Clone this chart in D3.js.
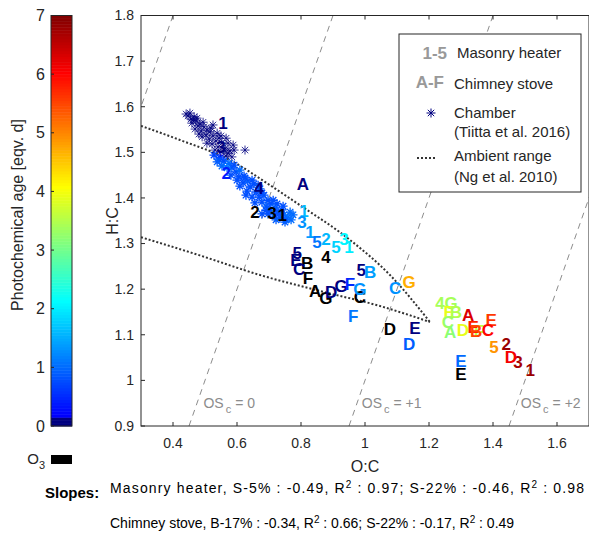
<!DOCTYPE html>
<html><head><meta charset="utf-8">
<script src="https://cdnjs.cloudflare.com/ajax/libs/d3/7.8.5/d3.min.js"></script>
<style>
html,body{margin:0;padding:0;background:#fff}
svg{display:block;font-family:Arial,"Liberation Sans",Helvetica,sans-serif}
</style></head><body>
<div id="chart"></div>
<script>
// Van Krevelen plot: H:C vs O:C, labels coloured by photochemical age

// Masonry heater points [label, O:C, H:C, age] (age null = O3 experiment, black)
const masonry=[
  ["1",0.556,1.564,0],["3",0.550,1.512,0],["2",0.566,1.455,0.4],["4",0.669,1.422,0.05],
  ["2",0.656,1.369,null],["3",0.709,1.367,null],["1",0.741,1.363,null],
  ["1",0.809,1.371,1.6],["3",0.803,1.347,1.3],["1",0.828,1.325,1.4],["5",0.850,1.303,1.1],
  ["2",0.878,1.310,1.6],["5",0.909,1.292,1.8],["3",0.934,1.310,2.1],["1",0.950,1.292,2.0],
  ["5",0.788,1.279,0],["4",0.878,1.270,null],["5",0.988,1.242,0.1],["4",1.234,1.170,3.4],
  ["5",1.403,1.073,4.9],["2",1.441,1.080,6.8],["3",1.478,1.040,6.7],["1",1.516,1.023,6.8]
];
// Chimney stove points
const chimney=[
  ["A",0.806,1.430,0],["E",0.784,1.264,0],["B",0.819,1.257,null],["C",0.794,1.244,0.1],
  ["F",0.822,1.224,null],["A",0.844,1.196,null],["G",0.878,1.181,null],["D",0.894,1.194,0],
  ["G",0.925,1.207,0],["F",0.953,1.211,0.5],["C",0.984,1.183,null],["G",0.984,1.200,1.3],
  ["B",1.016,1.237,1.4],["C",1.094,1.202,1.3],["G",1.138,1.216,4.7],["F",0.963,1.141,1.1],
  ["D",1.078,1.113,null],["E",1.156,1.115,0],["D",1.138,1.080,0.9],["G",1.269,1.170,3.4],
  ["E",1.263,1.150,3.9],["B",1.284,1.150,3.5],["C",1.259,1.128,3.3],["A",1.266,1.106,3.2],
  ["D",1.306,1.110,3.9],["F",1.356,1.108,3.6],["A",1.322,1.143,6.3],["E",1.338,1.117,5.8],
  ["B",1.347,1.108,5.5],["E",1.394,1.132,5.6],["C",1.384,1.110,6.0],["D",1.456,1.051,6.1],
  ["E",1.300,1.042,1.0],["E",1.300,1.014,null]
];
// Chamber data (Tiitta et al. 2016) [O:C, H:C, age]
const chamber=[
  [0.447,1.580,0],[0.456,1.573,0],[0.466,1.578,0],[0.459,1.564,0],[0.472,1.569,0],
  [0.478,1.558,0],[0.469,1.551,0],[0.488,1.547,0],[0.497,1.556,0],[0.481,1.540,0],
  [0.503,1.538,0],[0.516,1.545,0],[0.513,1.529,0],[0.525,1.536,0],[0.534,1.525,0],
  [0.522,1.518,0],[0.544,1.531,0],[0.553,1.520,0],[0.541,1.512,0],[0.563,1.509,0],
  [0.572,1.520,0],[0.531,1.505,0],[0.550,1.501,0],[0.578,1.503,0],[0.566,1.492,0],
  [0.584,1.490,0],[0.525,1.560,0],[0.625,1.505,0],
  [0.441,1.584,0],[0.453,1.586,0],[0.463,1.571,0],[0.475,1.575,0],[0.484,1.562,0],
  [0.494,1.566,0],[0.506,1.549,0],[0.519,1.553,0],[0.491,1.534,0],[0.506,1.520,0],
  [0.538,1.542,0],[0.550,1.536,0],[0.566,1.531,0],[0.559,1.505,0],[0.572,1.498,0],
  [0.591,1.505,0],[0.547,1.488,0.3],[0.588,1.516,0],
  [0.528,1.494,0.7],[0.544,1.485,0.8],[0.559,1.481,0.8],[0.575,1.476,1.0],[0.553,1.470,1.0],
  [0.584,1.466,0.9],[0.597,1.457,0.8],[0.609,1.461,1.0],[0.606,1.446,0.8],[0.622,1.448,0.8],
  [0.619,1.433,0.8],[0.634,1.437,0.9],[0.641,1.424,0.8],[0.653,1.431,0.8],[0.631,1.415,0.8],
  [0.659,1.413,0.8],[0.672,1.420,0.9],[0.669,1.402,0.8],[0.684,1.406,0.8],[0.678,1.391,0.8],
  [0.697,1.395,0.8],[0.691,1.382,0.9],[0.706,1.387,0.8],[0.703,1.373,0.8],[0.719,1.378,1.0],
  [0.728,1.369,0.8],[0.716,1.363,0.9],[0.741,1.374,0.8],[0.747,1.363,1.0],[0.734,1.356,0.8],
  [0.759,1.358,1.1],[0.766,1.369,1.0],[0.753,1.352,0.9],
  [0.538,1.479,0.9],[0.569,1.466,1.1],[0.591,1.472,0.8],[0.581,1.450,0.8],[0.600,1.439,0.8],
  [0.625,1.444,0.8],[0.609,1.426,0.8],[0.647,1.439,0.8],[0.628,1.406,0.8],[0.647,1.402,0.8],
  [0.666,1.428,0.8],[0.656,1.389,0.8],[0.678,1.411,0.8],[0.691,1.373,0.8],[0.713,1.395,0.8],
  [0.697,1.365,0.8],[0.725,1.387,0.8],[0.744,1.382,0.8],[0.731,1.365,0.8],[0.722,1.352,0.9],
  [0.750,1.347,0.9],[0.769,1.352,1.0],[0.775,1.363,1.0],[0.678,1.365,0.8]
];
// Ambient range (Ng et al. 2010)
const ngUpper=[[0.3,1.558],[0.422,1.527],[0.578,1.483],[0.703,1.428],[0.797,1.384],[0.953,1.308],[1.078,1.231],[1.203,1.128]];
const ngLower=[[0.3,1.314],[0.484,1.274],[0.672,1.231],[0.859,1.196],[1.047,1.163],[1.203,1.128]];
// Oxidation state lines OSc = 2*O:C - H:C
const osLines=[-1,0,1,2];
const osLabels=[["0",0.495,0.95],["+1",0.99,0.95],["+2",1.487,0.95]];
const xTicks=[0.4,0.6,0.8,1,1.2,1.4,1.6];
const yTicks=[0.9,1,1.1,1.2,1.3,1.4,1.5,1.6,1.7,1.8];
const cbTicks=[0,1,2,3,4,5,6,7];
const slopeLines=[
  "Masonry heater, S-5% : -0.49, R|2| :  0.97; S-22% : -0.46, R|2| :  0.98",
  "Chimney stove, B-17% : -0.34, R|2| : 0.66; S-22% : -0.17, R|2| : 0.49"
];

const W=589,H=537;
const x=d3.scaleLinear([0.3,1.7],[141,589]);
const y=d3.scaleLinear([0.9,1.8],[426,15.5]);
const cy=d3.scaleLinear([0,7],[426,15.5]);

function jet(t){
  const c=v=>Math.round(255*Math.max(0,Math.min(1,v)));
  return d3.rgb(c(1.5-Math.abs(4*t-3)),c(1.5-Math.abs(4*t-2)),c(1.5-Math.abs(4*t-1)));
}
function ageColor(a){
  if(a==null)return "#000";
  if(a<0.15)return jet(0).formatHex();
  return jet(0.12+(a-0.15)/6.85*0.88).formatHex();
}

const svg=d3.select("#chart").append("svg").attr("width",W).attr("height",H);
svg.append("defs").append("clipPath").attr("id","plot")
  .append("rect").attr("x",141).attr("y",15.5).attr("width",448).attr("height",410.5);
const axCol="#262626";

// OSc dashed lines
const plotG=svg.append("g").attr("clip-path","url(#plot)");
plotG.selectAll("line.os").data(osLines).join("line").attr("class","os")
  .attr("x1",d=>x((0.9+d)/2)).attr("y1",y(0.9))
  .attr("x2",d=>x((1.8+d)/2)).attr("y2",y(1.8))
  .attr("stroke","#8c8c8c").attr("stroke-width",1).attr("stroke-dasharray","6,5");
osLabels.forEach(d=>{
  const t=plotG.append("text").attr("x",x(d[1])).attr("y",y(d[2])).attr("dy","0.35em")
    .attr("font-size",14).attr("fill","#8c8c8c");
  t.append("tspan").text("OS");
  t.append("tspan").attr("dx",2).attr("dy",5).attr("font-size",11).text("c");
  t.append("tspan").attr("dx",4).attr("dy",-5).text("= "+d[0]);
});

// Ambient range dotted curves
const ln=d3.line().x(d=>x(d[0])).y(d=>y(d[1])).curve(d3.curveMonotoneX);
[ngUpper,ngLower].forEach(p=>{
  plotG.append("path").attr("d",ln(p)).attr("fill","none").attr("stroke","#333")
    .attr("stroke-width",2).attr("stroke-dasharray","2,2");
});

// Chamber asterisks
const star="M-4.5,0H4.5M0,-4.5V4.5M-3.2,-3.2L3.2,3.2M-3.2,3.2L3.2,-3.2";
plotG.selectAll("path.ch").data(chamber).join("path").attr("class","ch")
  .attr("d",star).attr("transform",d=>"translate("+x(d[0])+","+y(d[1])+")")
  .attr("stroke",d=>ageColor(d[2])).attr("stroke-width",d=>d[2]<0.15?1:1.3)
  .attr("stroke-opacity",d=>d[2]<0.15?0.8:1).attr("fill","none");

// Labels
plotG.selectAll("text.pt").data(masonry.concat(chimney)).join("text").attr("class","pt")
  .attr("x",d=>x(d[1])).attr("y",d=>y(d[2])).attr("dy","0.36em")
  .attr("text-anchor","middle").attr("font-size",17).attr("font-weight","bold")
  .attr("fill",d=>ageColor(d[3])).text(d=>d[0]);

// Axes box
svg.append("rect").attr("x",141).attr("y",15.5).attr("width",448).attr("height",410.5)
  .attr("fill","none").attr("stroke",axCol).attr("stroke-width",1);
const ax=svg.append("g");
xTicks.forEach(v=>{
  ax.append("line").attr("x1",x(v)).attr("x2",x(v)).attr("y1",426).attr("y2",422).attr("stroke",axCol);
  ax.append("line").attr("x1",x(v)).attr("x2",x(v)).attr("y1",15.5).attr("y2",19.5).attr("stroke",axCol);
  ax.append("text").attr("x",x(v)).attr("y",443).attr("dy","0.35em").attr("text-anchor","middle")
    .attr("font-size",14).attr("fill",axCol).text(v);
});
yTicks.forEach(v=>{
  ax.append("line").attr("x1",141).attr("x2",145).attr("y1",y(v)).attr("y2",y(v)).attr("stroke",axCol);
  ax.append("text").attr("x",134).attr("y",y(v)).attr("dy","0.35em").attr("text-anchor","end")
    .attr("font-size",14).attr("fill",axCol).text(v);
});
ax.append("text").attr("x",365).attr("y",466).attr("dy","0.35em").attr("text-anchor","middle")
  .attr("font-size",16).attr("fill",axCol).text("O:C");
ax.append("text").attr("transform","translate(112,221) rotate(-90)").attr("dy","0.35em")
  .attr("text-anchor","middle").attr("font-size",16).attr("fill",axCol).text("H:C");

// Colorbar
const cb=svg.append("g");
const steps=d3.range(0,7,0.05);
cb.selectAll("rect.s").data(steps).join("rect").attr("class","s")
  .attr("x",51).attr("width",21).attr("y",d=>cy(d+0.05)).attr("height",d=>cy(d)-cy(d+0.05)+0.5)
  .attr("fill",d=>ageColor(d+0.025));
cb.append("rect").attr("x",51).attr("y",15.5).attr("width",21).attr("height",410.5)
  .attr("fill","none").attr("stroke",axCol);
cbTicks.forEach(v=>{
  cb.append("line").attr("x1",51).attr("x2",54).attr("y1",cy(v)).attr("y2",cy(v)).attr("stroke",axCol);
  cb.append("text").attr("x",45).attr("y",cy(v)).attr("dy","0.35em").attr("text-anchor","end")
    .attr("font-size",16).attr("fill",axCol).text(v);
});
cb.append("text").attr("transform","translate(17,215) rotate(-90)").attr("dy","0.35em")
  .attr("text-anchor","middle").attr("font-size",16).attr("fill",axCol).text("Photochemical age [eqv. d]");
cb.append("rect").attr("x",51).attr("y",455).attr("width",21).attr("height",9).attr("fill","#000");
const o3=cb.append("text").attr("x",45).attr("y",459).attr("dy","0.35em").attr("text-anchor","end")
  .attr("font-size",15).attr("fill",axCol);
o3.append("tspan").text("O");
o3.append("tspan").attr("dy",5).attr("font-size",11).text("3");

// Legend
const lg=svg.append("g");
lg.append("rect").attr("x",399).attr("y",34).attr("width",182).attr("height",158)
  .attr("fill","#fff").attr("stroke","#262626");
lg.append("text").attr("x",447).attr("y",53).attr("dy","0.35em").attr("text-anchor","end")
  .attr("font-size",17).attr("font-weight","bold").attr("fill","#999").text("1-5");
lg.append("text").attr("x",444).attr("y",82).attr("dy","0.35em").attr("text-anchor","end")
  .attr("font-size",17).attr("font-weight","bold").attr("fill","#999").text("A-F");
lg.append("path").attr("d",star).attr("transform","translate(431,113)")
  .attr("stroke",ageColor(0)).attr("fill","none");
lg.append("line").attr("x1",417).attr("x2",437).attr("y1",158).attr("y2",158)
  .attr("stroke","#333").attr("stroke-width",2).attr("stroke-dasharray","2,2");
[["Masonry heater",457,53],["Chimney stove",454,84],["Chamber",454,113],["(Tiitta et al. 2016)",454,132],
 ["Ambient range",454,156],["(Ng et al. 2010)",454,177]].forEach(d=>{
  lg.append("text").attr("x",d[1]).attr("y",d[2]).attr("dy","0.35em").attr("font-size",15)
    .attr("fill","#262626").text(d[0]);
});

// Slopes note
svg.append("text").attr("x",45).attr("y",493).attr("dy","0.35em").attr("font-size",15)
  .attr("font-weight","bold").attr("fill","#000").text("Slopes:");
slopeLines.forEach((s,i)=>{
  const t=svg.append("text").attr("x",110).attr("y",493+35*i).attr("dy","0.35em")
    .attr("font-size",14).attr("fill","#000");
  if(i===0)t.attr("textLength",474).attr("lengthAdjust","spacing");
  s.split("|").forEach((p,j)=>{
    if(j%2===1)t.append("tspan").attr("dy",-5).attr("font-size",10).text(p);
    else t.append("tspan").attr("dy",j?5:0).text(p);
  });
});
</script></body></html>
